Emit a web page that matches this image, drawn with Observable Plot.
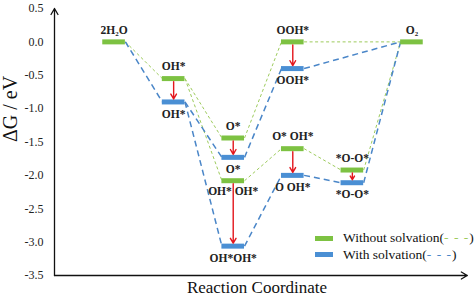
<!DOCTYPE html>
<html>
<head>
<meta charset="utf-8">
<script src="https://cdn.jsdelivr.net/npm/d3@7"></script>
<script src="https://cdn.jsdelivr.net/npm/@observablehq/plot@0.6"></script>
<style>
  body { margin: 0; background: #fff; }
  #chart { position: relative; width: 474px; height: 302px; font-family: "Liberation Serif", "Times New Roman", serif; }
  #chart svg, #chart svg text { font-family: "Liberation Serif", "Times New Roman", serif !important; }
  .legend { position: absolute; left: 315px; top: 230px; font-size: 13.5px; line-height: 16.5px; color: #111; }
  .legend .row { display: flex; align-items: center; white-space: nowrap; }
  .legend .swatch { width: 18px; height: 5px; margin-right: 10px; }
  .legend .dash { letter-spacing: 1px; }
</style>
</head>
<body>
<div id="chart"></div>
<script>
// Free-energy diagram of the oxygen evolution steps, with and without solvation
const states = ["2H2O", "OH*", "O*", "OH*OH*", "OOH*", "O*OH*", "*O-O*", "O2"];
const step = [0, 1, 2, 2, 3, 3, 4, 5];
const dgWithout = [0.00, -0.55, -1.44, -2.08, 0.00, -1.60, -1.92, 0.00];
const dgWith = [0.00, -0.90, -1.73, -3.06, -0.40, -2.00, -2.11, 0.00];
const labelWithout = ["2H₂O", "OH*", "O*", "OH* OH*", "OOH*", "O* OH*", "*O-O*", "O₂"];
const labelWith = ["", "OH*", "O*", "OH*OH*", "OOH*", "O OH*", "*O-O*", ""];
const labelWithoutBelow = [false, false, false, true, false, false, false, false];
// two reaction routes, as indices into states
const pathA = [0, 1, 2, 4, 7];
const pathB = [1, 3, 5, 6, 7];
const yTicks = [0.5, 0, -0.5, -1, -1.5, -2, -2.5, -3, -3.5];
const seriesNames = ["Without solvation", "With solvation"];

const GREEN = "#7dc242", BLUE = "#4a8fd4", RED = "#e3161d";
const GREEN_LINE = "#9dcb5c", BLUE_LINE = "#4a86c8";
const xDomain = [-1, 6], yDomain = [-3.5, 0.5];
const xAxisEnd = 5.93;
const hw = 0.19; // half width of a level bar, in step units

const idx = states.map((_, i) => i);
const hasWith = idx.filter(i => labelWith[i] !== "");
const above = idx.filter(i => !labelWithoutBelow[i]);
const below = idx.filter(i => labelWithoutBelow[i]);

function segments(values) {
  const out = [];
  for (const p of [pathA, pathB]) {
    for (let k = 0; k < p.length - 1; k++) {
      const a = p[k], b = p[k + 1];
      out.push({x1: step[a] + hw, y1: values[a], x2: step[b] - hw, y2: values[b]});
    }
  }
  return out;
}

const labelStyle = {fontWeight: "bold", fontSize: 11.5, fill: "#222"};

const plot = Plot.plot({
  width: 474,
  height: 302,
  marginLeft: 54,
  marginRight: 3,
  marginTop: 8,
  marginBottom: 27,
  style: {fontFamily: "Liberation Serif, serif", fontSize: "12px", background: "#fff", overflow: "visible"},
  x: {domain: xDomain, axis: null},
  y: {domain: yDomain},
  marks: [
    Plot.axisY({ticks: yTicks, tickSize: 0, tickPadding: 11, tickFormat: d => d.toFixed(1), fontSize: 12, fill: "#222", label: null}),
    // axes with arrowheads
    Plot.arrow([0], {x1: xDomain[0], x2: xDomain[0], y1: yDomain[0], y2: yDomain[1], stroke: "#111", strokeWidth: 1.3, headLength: 8}),
    Plot.arrow([0], {x1: xDomain[0], x2: xAxisEnd, y1: yDomain[0], y2: yDomain[0], stroke: "#111", strokeWidth: 1.3, headLength: 8}),
    // dashed connectors between levels
    Plot.link(segments(dgWithout), {x1: "x1", y1: "y1", x2: "x2", y2: "y2", stroke: GREEN_LINE, strokeWidth: 1, strokeDasharray: "3,2.5"}),
    Plot.link(segments(dgWith), {x1: "x1", y1: "y1", x2: "x2", y2: "y2", stroke: BLUE_LINE, strokeWidth: 1.5, strokeDasharray: "6,4"}),
    // energy levels
    Plot.ruleY(hasWith, {x1: i => step[i] - hw, x2: i => step[i] + hw, y: i => dgWith[i], stroke: BLUE, strokeWidth: 5}),
    Plot.ruleY(idx, {x1: i => step[i] - hw, x2: i => step[i] + hw, y: i => dgWithout[i], stroke: GREEN, strokeWidth: 5}),
    // solvation shift arrows
    Plot.arrow(hasWith, {x1: i => step[i], x2: i => step[i], y1: i => dgWithout[i], y2: i => dgWith[i], stroke: RED, strokeWidth: 1.4, headLength: 6, insetStart: 3, insetEnd: 3}),
    // level labels
    Plot.text(above, {x: i => step[i], y: i => dgWithout[i], text: i => labelWithout[i], dy: -12, ...labelStyle}),
    Plot.text(below, {x: i => step[i], y: i => dgWithout[i], text: i => labelWithout[i], dy: 11, ...labelStyle}),
    Plot.text(hasWith, {x: i => step[i], y: i => dgWith[i], text: i => labelWith[i], dy: 12, ...labelStyle}),
    // axis titles
    Plot.text(["Reaction Coordinate"], {frameAnchor: "bottom", dy: 17, dx: -6, fontSize: 17, fill: "#111"}),
    Plot.text(["ΔG / eV"], {frameAnchor: "left", dx: -44, rotate: -90, fontSize: 20, fill: "#111"})
  ]
});

const chart = document.getElementById("chart");
chart.append(plot);

const legend = document.createElement("div");
legend.className = "legend";
[[seriesNames[0], GREEN, GREEN_LINE], [seriesNames[1], BLUE, BLUE_LINE]].forEach(([name, c, lc]) => {
  const row = document.createElement("div");
  row.className = "row";
  row.innerHTML = `<span class="swatch" style="background:${c}"></span><span>${name}(<span class="dash" style="color:${lc}">- - -</span>)</span>`;
  legend.append(row);
});
chart.append(legend);
</script>
</body>
</html>
